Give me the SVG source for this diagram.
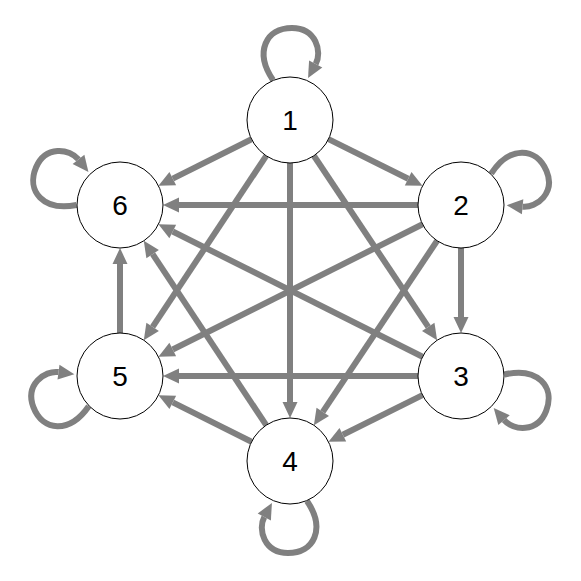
<svg xmlns="http://www.w3.org/2000/svg" width="581" height="581" viewBox="0 0 581 581">
<style>
.e{fill:none;stroke:#808080;stroke-width:6;marker-end:url(#ah)}
.n circle{fill:#fff;stroke:#000;stroke-width:1}
.n text{font-family:"Liberation Sans",Arial,sans-serif;font-size:28px;text-anchor:middle;fill:#000}
</style>
<defs>
<marker id="ah" markerUnits="userSpaceOnUse" markerWidth="16" markerHeight="15" refX="0" refY="7.5" orient="auto" overflow="visible">
<path d="M0,0 L16,7.5 L0,15 z" fill="#808080"/>
</marker>
<path id="loop" d="M-17,-40 C-36,-68 -24,-92 2,-92 C26,-92 32.4,-68.3 25.7,-56"/>
</defs>
<g id="connectors">
<line class="e" x1="251.54" y1="139.23" x2="172.77" y2="178.62"/>
<line class="e" x1="328.5" y1="139.14" x2="408.17" y2="178.74"/>
<line class="e" x1="266.21" y1="155.82" x2="152.64" y2="326.85"/>
<line class="e" x1="290" y1="163" x2="290" y2="402"/>
<line class="e" x1="313.89" y1="155.76" x2="428.23" y2="326.94"/>
<line class="e" x1="418" y1="205" x2="179" y2="205"/>
<line class="e" x1="461" y1="248" x2="461" y2="317"/>
<line class="e" x1="422.56" y1="224.28" x2="172.74" y2="349.55"/>
<line class="e" x1="437.11" y1="240.76" x2="322.77" y2="411.94"/>
<line class="e" x1="422.56" y1="356.72" x2="172.74" y2="231.45"/>
<line class="e" x1="418" y1="376" x2="179" y2="376"/>
<line class="e" x1="422.5" y1="395.14" x2="342.83" y2="434.74"/>
<line class="e" x1="266.21" y1="425.18" x2="152.64" y2="254.15"/>
<line class="e" x1="251.54" y1="441.77" x2="172.77" y2="402.38"/>
<line class="e" x1="120" y1="333" x2="120" y2="264"/>
<use href="#loop" class="e" transform="translate(290,120)"/>
<use href="#loop" class="e" transform="translate(461,205) rotate(67)"/>
<use href="#loop" class="e" transform="translate(461,376) rotate(111)"/>
<use href="#loop" class="e" transform="translate(290,461) rotate(180)"/>
<use href="#loop" class="e" transform="translate(120,376) rotate(249)"/>
<use href="#loop" class="e" transform="translate(120,205) rotate(293)"/>
</g>
<g id="node1" class="n"><circle cx="290" cy="120" r="43"/><text x="290" y="130">1</text></g>
<g id="node2" class="n"><circle cx="461" cy="205" r="43"/><text x="461" y="215">2</text></g>
<g id="node3" class="n"><circle cx="461" cy="376" r="43"/><text x="461" y="386">3</text></g>
<g id="node4" class="n"><circle cx="290" cy="461" r="43"/><text x="290" y="471">4</text></g>
<g id="node5" class="n"><circle cx="120" cy="376" r="43"/><text x="120" y="386">5</text></g>
<g id="node6" class="n"><circle cx="120" cy="205" r="43"/><text x="120" y="215">6</text></g>
</svg>
